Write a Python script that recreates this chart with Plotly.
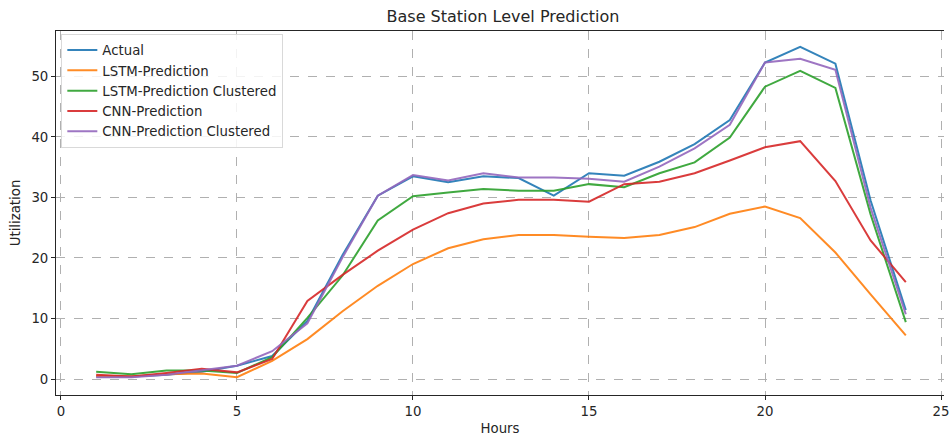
import plotly.graph_objects as go

hours = list(range(1, 25))
actual = [0.4, 0.4, 0.7, 1.2, 2.2, 3.8, 9.6, 20.5, 30.3, 33.5, 32.5, 33.5, 33.2, 30.3, 34.0, 33.6, 35.9, 38.8, 42.8, 52.3, 54.9, 52.1, 29.5, 11.4]
lstm = [0.5, 0.4, 0.8, 0.9, 0.3, 3.0, 6.6, 11.2, 15.4, 19.0, 21.6, 23.1, 23.8, 23.8, 23.5, 23.3, 23.8, 25.1, 27.3, 28.5, 26.6, 20.9, 14.0, 7.2]
lstm_cl = [1.2, 0.8, 1.4, 1.4, 1.0, 3.6, 10.1, 17.1, 26.2, 30.2, 30.8, 31.4, 31.1, 31.1, 32.2, 31.7, 34.0, 35.8, 39.9, 48.3, 50.9, 48.1, 27.2, 9.4]
cnn = [0.7, 0.4, 1.0, 1.7, 1.1, 3.3, 12.9, 17.2, 21.2, 24.7, 27.4, 29.0, 29.6, 29.6, 29.3, 32.2, 32.6, 34.0, 36.1, 38.3, 39.3, 32.7, 22.9, 16.0]
cnn_cl = [0.3, 0.3, 0.7, 1.4, 2.2, 4.6, 9.2, 20.1, 30.3, 33.7, 32.8, 34.0, 33.3, 33.3, 33.1, 32.6, 35.1, 38.1, 42.0, 52.3, 52.9, 51.1, 28.3, 10.7]

names = ["Actual", "LSTM-Prediction", "LSTM-Prediction Clustered", "CNN-Prediction", "CNN-Prediction Clustered"]
series = [actual, lstm, lstm_cl, cnn, cnn_cl]
colors = ["#1f77b4", "#ff7f0e", "#2ca02c", "#d62728", "#9467bd"]

font = "DejaVu Sans"
fig = go.Figure()
for n, s, c in zip(names, series, colors):
    fig.add_trace(go.Scatter(x=hours, y=s, mode="lines", name=n,
                             line=dict(color=c, width=2), opacity=0.9))

fig.update_layout(
    width=949, height=439,
    margin=dict(l=56, r=0, t=31, b=44),
    paper_bgcolor="white", plot_bgcolor="white",
    font=dict(family=font, size=13.3, color="#262626"),
    title=dict(text="Base Station Level Prediction", x=0.53, xanchor="center",
               y=0.963, yanchor="middle", font=dict(size=16, color="#262626")),
    showlegend=True,
    legend=dict(x=0.006, y=0.992, xanchor="left", yanchor="top",
                bgcolor="rgba(255,255,255,0.85)", bordercolor="#d9d9d9", borderwidth=1,
                font=dict(size=13.3, color="#262626"), tracegroupgap=0,
                itemwidth=30),
)
fig.update_xaxes(
    range=[-0.141, 25.085], tickvals=[0, 5, 10, 15, 20, 25],
    showgrid=True, gridcolor="#b0b0b0", griddash="dash", gridwidth=1,
    showline=True, linecolor="#262626", linewidth=1, mirror=True,
    ticks="outside", ticklen=4, tickcolor="#262626", ticklabeloverflow="allow",
    zeroline=False, title=dict(text="Hours", font=dict(size=13.3), standoff=5),
)
fig.update_yaxes(
    range=[-2.64, 57.5], tickvals=[0, 10, 20, 30, 40, 50],
    showgrid=True, gridcolor="#b0b0b0", griddash="dash", gridwidth=1,
    showline=True, linecolor="#262626", linewidth=1,
    ticks="outside", ticklen=4, tickcolor="#262626",
    zeroline=False, title=dict(text="Utilization", font=dict(size=13.3), standoff=7),
)
fig.write_html("out.html")
